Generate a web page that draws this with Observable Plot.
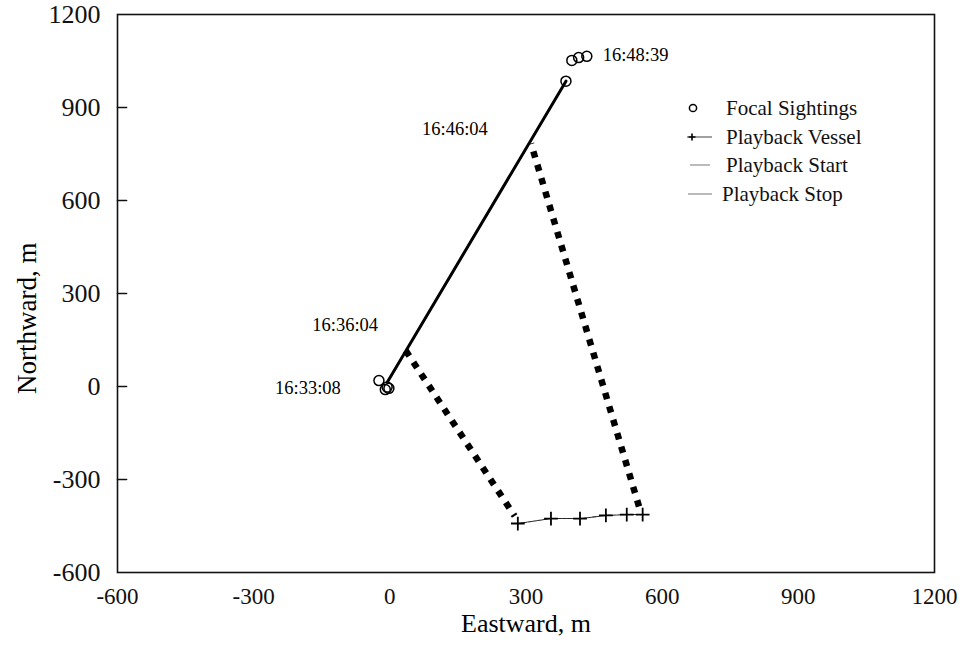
<!DOCTYPE html>
<html>
<head>
<meta charset="utf-8">
<script src="https://cdn.jsdelivr.net/npm/d3@7"></script>
<script src="https://cdn.jsdelivr.net/npm/@observablehq/plot@0.6"></script>
<style>
  html, body { margin: 0; padding: 0; background: #fff; }
  #wrap { position: relative; width: 962px; height: 647px; font-family: "Liberation Serif", "DejaVu Serif", serif; }
  #legend { position: absolute; left: 684px; top: 95px; font-size: 21px; color: #111; }
  #legend .row { position: relative; height: 28.7px; }
  #legend svg { position: absolute; left: 0; top: 0; }
  #legend span { position: absolute; top: 0; line-height: 26px; white-space: nowrap; }
</style>
</head>
<body>
<div id="wrap"></div>
<script>
// ---- data (metres east / north) ----
const xTicks = [-600, -300, 0, 300, 600, 900, 1200];
const yTicks = [-600, -300, 0, 300, 600, 900, 1200];

// focal animal sightings
const focalX = [-24, -10, -2, -6, 388, 401, 416, 434];
const focalY = [19, -10, -6, -2, 985, 1052, 1061, 1065];

// focal animal track
const trackX = [-5, 388];
const trackY = [15, 985];

// playback vessel positions
const vesselX = [282, 355, 419, 476, 522, 557];
const vesselY = [-442, -426, -426, -416, -413, -413];

// playback start line (focal -> vessel) and stop line
const startX = [35, 275];
const startY = [116, -418];
const stopX = [549, 311];
const stopY = [-387, 784];

// time annotations
const timeLabels = ["16:48:39", "16:46:04", "16:36:04", "16:33:08"];
const timeX = [469, 216, -26, -108];
const timeY = [1068, 832, 197, -6];
const timeAnchor = ["start", "end", "end", "end"];

const legendLabels = ["Focal Sightings", "Playback Vessel", "Playback Start", "Playback Stop"];

// ---- build tables ----
const focal = focalX.map((x, i) => ({x, y: focalY[i]}));
const track = trackX.map((x, i) => ({x, y: trackY[i]}));
const vessel = vesselX.map((x, i) => ({x, y: vesselY[i]}));
const startLine = startX.map((x, i) => ({x, y: startY[i]}));
const stopLine = stopX.map((x, i) => ({x, y: stopY[i]}));
const times = timeLabels.map((t, i) => ({t, x: timeX[i], y: timeY[i], a: timeAnchor[i]}));
// short inward tick segments on the left frame edge (length ~9px)
const tickLen = 20;
const innerTicks = yTicks.slice(1, -1).flatMap(v => [{v, x: xTicks[0]}, {v, x: xTicks[0] + tickLen}]);

const font = "Liberation Serif";

const chart = Plot.plot({
  width: 962,
  height: 647,
  marginLeft: 117,
  marginRight: 28,
  marginTop: 14,
  marginBottom: 75,
  style: {fontFamily: font, fontSize: "24px", color: "#111", background: "#fff"},
  x: {type: "linear", domain: [-600, 1200]},
  y: {type: "linear", domain: [-600, 1200]},
  marks: [
    Plot.axisX({ticks: xTicks, tickSize: 0, tickPadding: 15, tickFormat: d => String(d), label: null, fontSize: 23}),
    Plot.axisY({ticks: yTicks, tickSize: 0, tickPadding: 17, tickFormat: d => String(d), label: null, fontSize: 26}),
    // inward tick marks on left axis
    Plot.line(innerTicks, {x: "x", y: "v", z: "v", stroke: "#111", strokeWidth: 1.6}),
    Plot.frame({stroke: "#111", strokeWidth: 1.6}),
    // playback start / stop lines (thick dotted)
    Plot.line(startLine, {x: "x", y: "y", stroke: "#000", strokeWidth: 6.5, strokeDasharray: "6.5,7.5", strokeLinecap: "butt"}),
    Plot.line(stopLine, {x: "x", y: "y", stroke: "#000", strokeWidth: 6.5, strokeDasharray: "6.5,7.5", strokeLinecap: "butt"}),
    // focal track
    Plot.line(track, {x: "x", y: "y", stroke: "#000", strokeWidth: 3}),
    // vessel track
    Plot.line(vessel, {x: "x", y: "y", stroke: "#222", strokeWidth: 1.1, strokeDasharray: "4,1"}),
    Plot.dot(vessel, {x: "x", y: "y", symbol: "plus", r: 4.5, stroke: "#000", strokeWidth: 1.8, fill: "none"}),
    // focal sightings
    Plot.dot(focal, {x: "x", y: "y", r: 5, stroke: "#000", strokeWidth: 1.5, fill: "none"}),
    // time labels
    Plot.text(times, {x: "x", y: "y", text: "t", textAnchor: "start", filter: d => d.a === "start", fontSize: 18.5, fill: "#000"}),
    Plot.text(times, {x: "x", y: "y", text: "t", textAnchor: "end", filter: d => d.a === "end", fontSize: 18.5, fill: "#000"}),
    // axis titles
    Plot.text(["Eastward, m"], {frameAnchor: "bottom", dy: 59, fontSize: 26, fill: "#000"}),
    Plot.text(["Northward, m"], {x: -600, y: 220, dx: -90, rotate: -90, fontSize: 27, fill: "#000"})
  ]
});

const wrap = document.getElementById("wrap");
wrap.appendChild(chart);

// legend (drawn over the plot, inside the frame)
const legend = document.createElement("div");
legend.id = "legend";
const symbols = [
  `<svg width="40" height="26"><circle cx="9" cy="13" r="3.6" fill="none" stroke="#000" stroke-width="1.5"/></svg>`,
  `<svg width="40" height="26"><line x1="3" y1="13" x2="28" y2="13" stroke="#444" stroke-width="1"/><path d="M8,9.5V16.5M4.5,13H11.5" stroke="#000" stroke-width="1.6"/></svg>`,
  `<svg width="40" height="26"><line x1="6" y1="13" x2="26" y2="13" stroke="#777" stroke-width="1"/></svg>`,
  `<svg width="40" height="26"><line x1="4" y1="13" x2="28" y2="13" stroke="#777" stroke-width="1"/></svg>`
];
const textLeft = [42, 42, 42, 38];
legendLabels.forEach((lab, i) => {
  const row = document.createElement("div");
  row.className = "row";
  row.innerHTML = symbols[i] + `<span style="left:${textLeft[i]}px">${lab}</span>`;
  legend.appendChild(row);
});
wrap.appendChild(legend);
</script>
</body>
</html>
